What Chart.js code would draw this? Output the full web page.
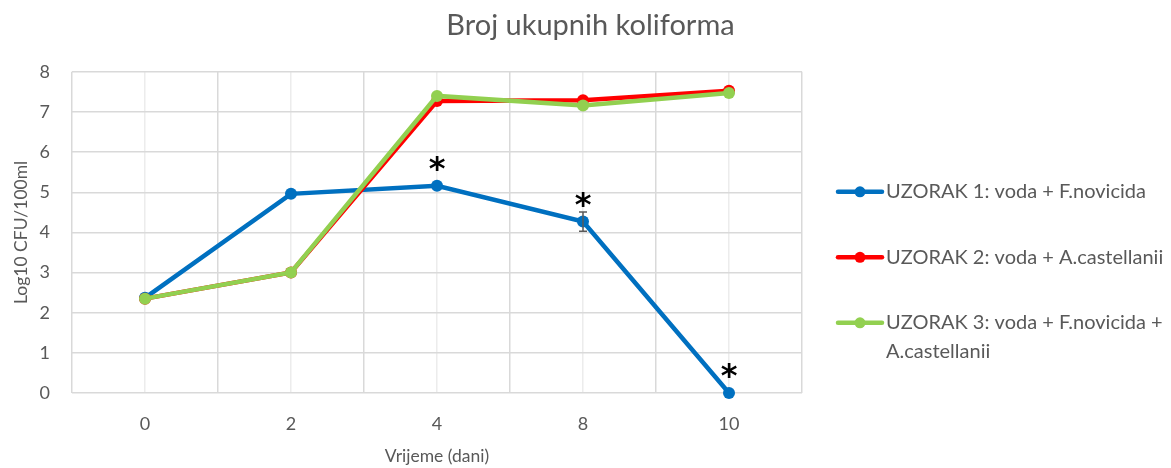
<!DOCTYPE html>
<html lang="hr">
<head>
  <meta charset="UTF-8">
  <title>Broj ukupnih koliforma</title>
  <script src="https://cdn.jsdelivr.net/npm/chart.js"></script>
  <style>
    body { margin: 0; background: #fff; }
    #wrap { width: 1171px; height: 468px; }
  </style>
</head>
<body>
  <div id="wrap"><canvas id="myChart" width="1171" height="468"></canvas></div>

  <script>
    // Data
    var days = ['0', '2', '4', '8', '10'];
    var seriesNames = [
      'UZORAK 1: voda + F.novicida',
      'UZORAK 2: voda + A.castellanii',
      'UZORAK 3: voda + F.novicida + A.castellanii'
    ];
    var uzorak1 = [2.37, 4.96, 5.16, 4.27, 0];
    var uzorak2 = [2.35, 3.0, 7.27, 7.29, 7.53];
    var uzorak3 = [2.35, 3.0, 7.40, 7.16, 7.47];
    var uzorak1Err = [0, 0, 0, 0.24, 0];
    var uzorak1Star = [false, false, true, true, true];
    var colors = ['#0070C0', '#FF0000', '#92D050'];

    var FONT = 'Lato, "Open Sans", sans-serif';
    var GREY = '#595959';

    // error bars + asterisks for series 1
    var marksPlugin = {
      id: 'marks',
      afterDatasetsDraw: function (chart) {
        var ctx = chart.ctx;
        var meta = chart.getDatasetMeta(0);
        var y = chart.scales.y;
        ctx.save();
        for (var i = 0; i < uzorak1.length; i++) {
          var px = meta.data[i].x;
          if (uzorak1Err[i] > 0) {
            var top = y.getPixelForValue(uzorak1[i] + uzorak1Err[i]);
            var bot = y.getPixelForValue(uzorak1[i] - uzorak1Err[i]);
            ctx.strokeStyle = GREY;
            ctx.lineWidth = 1.5;
            ctx.beginPath();
            ctx.moveTo(px, top); ctx.lineTo(px, bot);
            ctx.moveTo(px - 4, top); ctx.lineTo(px + 4, top);
            ctx.moveTo(px - 4, bot); ctx.lineTo(px + 4, bot);
            ctx.stroke();
          }
          if (uzorak1Star[i]) {
            ctx.fillStyle = '#000';
            ctx.font = 'bold 32px "DejaVu Sans", sans-serif';
            ctx.textAlign = 'center';
            ctx.textBaseline = 'alphabetic';
            ctx.fillText('*', px, y.getPixelForValue(uzorak1[i]) - 7);
          }
        }
        ctx.restore();
      }
    };

    // legend on the right, with word wrap
    var sideLegend = {
      id: 'sideLegend',
      afterDraw: function (chart) {
        var ctx = chart.ctx;
        var x0 = chart.chartArea.right + 34;
        var tx = x0 + 50;
        var maxW = chart.width - tx - 2;
        var yc = chart.chartArea.top + 120;
        ctx.save();
        ctx.font = '20px ' + FONT;
        ctx.textBaseline = 'middle';
        ctx.textAlign = 'left';
        for (var i = 0; i < seriesNames.length; i++) {
          ctx.strokeStyle = colors[i];
          ctx.lineWidth = 4.5;
          ctx.lineCap = 'round';
          ctx.beginPath();
          ctx.moveTo(x0 + 2, yc); ctx.lineTo(x0 + 46, yc);
          ctx.stroke();
          ctx.fillStyle = colors[i];
          ctx.beginPath();
          ctx.arc(x0 + 24, yc, 5.5, 0, Math.PI * 2);
          ctx.fill();

          // wrap words
          var words = seriesNames[i].split(' ');
          var lines = [], cur = '';
          words.forEach(function (w) {
            var test = cur ? cur + ' ' + w : w;
            if (ctx.measureText(test).width > maxW && cur) { lines.push(cur); cur = w; }
            else cur = test;
          });
          lines.push(cur);
          ctx.fillStyle = GREY;
          lines.forEach(function (l, k) { ctx.fillText(l, tx, yc + k * 29); });
          yc += 65.5;
        }
        ctx.restore();
      }
    };

    var ds = function (label, data, color, order) {
      return {
        label: label, data: data, order: order,
        borderColor: color, backgroundColor: color,
        borderWidth: 4.5, pointRadius: 6, pointHoverRadius: 6,
        pointBorderWidth: 0, tension: 0, clip: 10
      };
    };

    var ctx = document.getElementById('myChart').getContext('2d');
    var myChart = new Chart(ctx, {
      type: 'line',
      data: {
        labels: days,
        datasets: [
          ds(seriesNames[0], uzorak1, colors[0], 2),
          ds(seriesNames[1], uzorak2, colors[1], 1),
          ds(seriesNames[2], uzorak3, colors[2], 0)
        ]
      },
      options: {
        responsive: false,
        animation: false,
        layout: { padding: { left: 10, bottom: 0, top: 0, right: 0 } },
        plugins: {
          legend: { display: false },
          tooltip: { enabled: false },
          title: {
            display: true,
            text: 'Broj ukupnih koliforma',
            color: GREY,
            font: { family: FONT, size: 29, weight: 'normal' },
            padding: { top: 8, bottom: 29 }
          }
        },
        scales: {
          x: {
            offset: true,
            grid: { offset: true, color: '#d9d9d9', lineWidth: 1.5, drawTicks: false },
            border: { display: false },
            ticks: { color: GREY, font: { family: FONT, size: 18 }, padding: 20 },
            title: {
              display: true, text: 'Vrijeme (dani)', color: GREY,
              font: { family: FONT, size: 17.5 }, padding: { top: 12, bottom: 1 }
            },
            afterFit: function (s) { s.height = 75; }
          },
          x2: {
            position: 'bottom',
            offset: true,
            grid: { offset: false, color: '#ececec', lineWidth: 1.5, drawTicks: false },
            border: { display: false },
            ticks: { display: false },
            afterFit: function (s) { s.height = 0; }
          },
          y: {
            min: 0, max: 8,
            grid: { color: '#d9d9d9', lineWidth: 1.5, drawTicks: false },
            border: { display: false },
            ticks: { stepSize: 1, color: GREY, font: { family: FONT, size: 18 }, padding: 22 },
            title: {
              display: true, text: 'Log10 CFU/100ml', color: GREY,
              font: { family: FONT, size: 17.5 }, padding: { top: 1, bottom: 12 }
            },
            afterFit: function (s) { s.width = 62; }
          },
          yRight: {
            position: 'right',
            grid: { display: false },
            border: { display: false },
            ticks: { display: false },
            afterFit: function (s) { s.width = 369; }
          }
        }
      },
      plugins: [marksPlugin, sideLegend]
    });
  </script>
</body>
</html>
